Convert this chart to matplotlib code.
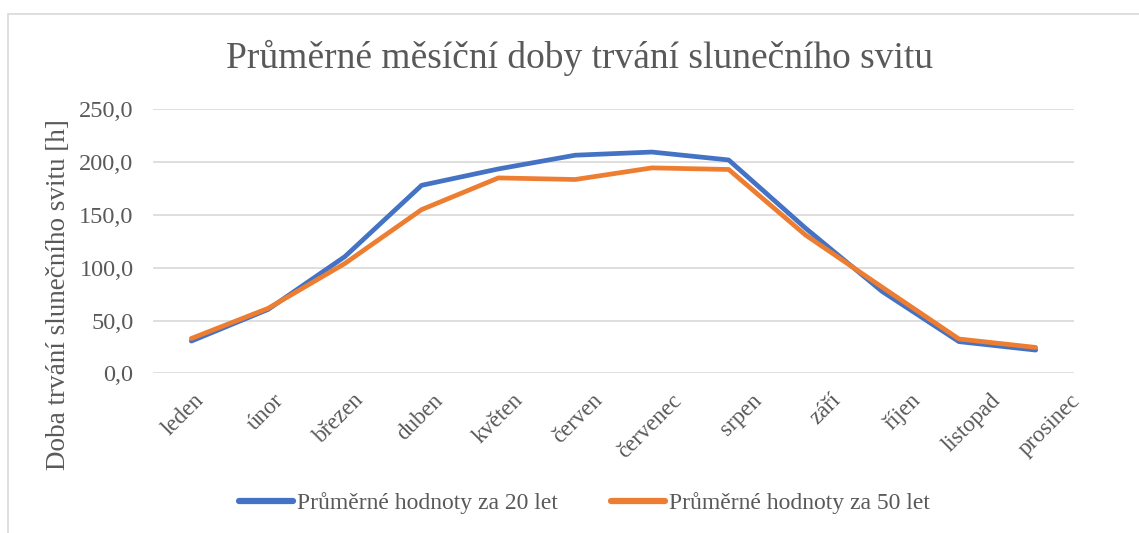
import matplotlib.pyplot as plt
import matplotlib.patches as patches
import matplotlib.transforms as mtransforms
import numpy as np

plt.rcParams['font.family'] = ['Liberation Serif', 'DejaVu Serif']

# data
mesice = ['leden', 'únor', 'březen', 'duben', 'květen', 'červen',
          'červenec', 'srpen', 'září', 'říjen', 'listopad', 'prosinec']
prumer_20 = [30.5, 60.5, 110.5, 178.0, 193.5, 206.5, 209.5, 202.0, 137.5, 77.5, 30.0, 22.0]
prumer_50 = [33.0, 61.5, 104.0, 155.0, 185.0, 183.5, 194.5, 193.0, 131.0, 81.5, 32.5, 24.5]
y_ticks = [0, 50, 100, 150, 200, 250]

TEXT = '#595959'
BLUE = '#4472C4'
ORANGE = '#ED7D31'
GRID = '#D9D9D9'

fig = plt.figure(figsize=(11.39, 5.33), dpi=100)
ax = fig.add_axes([0.1343, 0.2996, 0.8087, 0.4954])

# chart frame (Excel-like border, right/bottom edges cut off)
fig.patches.append(patches.Rectangle((8 / 1139, -0.05), 1.1, 1 - 14 / 533 + 0.05,
                                     transform=fig.transFigure, fill=False,
                                     edgecolor=GRID, linewidth=1.2))

x = np.arange(len(mesice))
ax.plot(x, prumer_20, color=BLUE, linewidth=3.4, solid_capstyle='round',
        solid_joinstyle='round', label='Průměrné hodnoty za 20 let', zorder=3)
ax.plot(x, prumer_50, color=ORANGE, linewidth=3.4, solid_capstyle='round',
        solid_joinstyle='round', label='Průměrné hodnoty za 50 let', zorder=4)

ax.set_xlim(-0.5, len(mesice) - 0.5)
ax.set_ylim(0, 250)
ax.set_yticks(y_ticks)
ax.set_yticklabels([f'{v:.1f}'.replace('.', ',') for v in y_ticks])
ax.set_xticks(x)
ax.set_xticklabels(mesice, rotation=45, ha='right', rotation_mode='anchor')

ax.tick_params(axis='y', length=0, labelsize=17.5, colors=TEXT, pad=14)
ax.tick_params(axis='x', length=0, labelsize=16.5, colors=TEXT, pad=12)

# the month labels drift slightly to the right of their ticks, as in the original
for i, lbl in enumerate(ax.get_xticklabels()):
    shift = mtransforms.ScaledTranslation((2 + 2.9 * i) / 100, 0, fig.dpi_scale_trans)
    lbl.set_transform(lbl.get_transform() + shift)

ax.grid(axis='y', color=GRID, linewidth=1.2)
ax.set_axisbelow(True)
for s in ax.spines.values():
    s.set_visible(False)

ax.set_ylabel('Doba trvání slunečního svitu [h]', fontsize=19.5, color=TEXT)
ax.yaxis.set_label_coords(-0.089, 0.30)
fig.text(0.509, 0.891, 'Průměrné měsíční doby trvání slunečního svitu',
         ha='center', va='center', fontsize=27, color=TEXT)

leg = fig.legend(loc='center', bbox_to_anchor=(0.513, 0.056), ncol=2, frameon=False,
                 fontsize=17, handlelength=2.3, handletextpad=0.15, columnspacing=2.25,
                 labelcolor=TEXT)
for ln in leg.get_lines():
    ln.set_linewidth(4.5)

fig.savefig('out.png', dpi=100)
